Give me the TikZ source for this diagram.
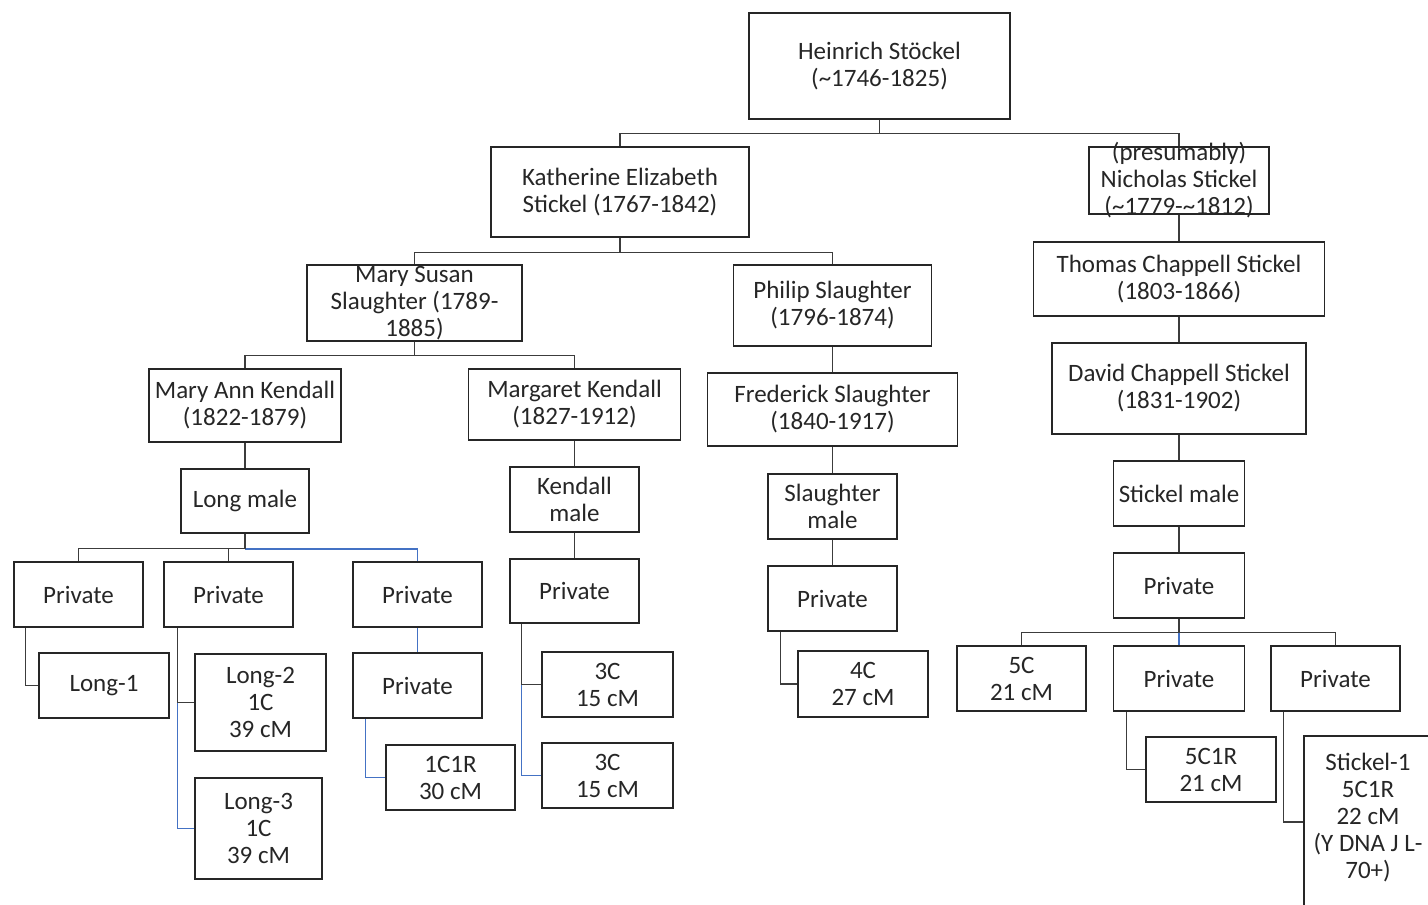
\documentclass[tikz,border=0pt]{standalone}
\usepackage{fontspec}
\setmainfont{Carlito}
\usepackage{xcolor}
\definecolor{linegray}{RGB}{60,60,60}
\definecolor{linkblue}{RGB}{68,114,196}
\tikzset{
    tree-box/.style 2 args = {draw=black!85, line width=0.8pt, rectangle, align=center, minimum width=#1*0.5pt, minimum height=#2*0.5pt, inner xsep=2pt, inner ysep=-4pt, text=black!85, font=\fontsize{12.5}{13.5}\selectfont},
    link/.style = {draw=linegray, line width=0.6pt},
    blue-link/.style = {draw=linkblue, line width=0.7pt},
}

\begin{document}
\begin{tikzpicture}[x=0.5pt, y=-0.5pt]
\useasboundingbox (0,0) rectangle (1428,904);
\clip (0,0) rectangle (1428,904);
% ancestors
\node[tree-box={261}{106}] (heinrich) at (879.5,66) {Heinrich Stöckel\\(\textasciitilde1746-1825)};
\node[tree-box={258}{90}] (katherine) at (620,192) {Katherine Elizabeth\\Stickel (1767-1842)};
\node[tree-box={180}{67}] (nicholas) at (1179,180.5) {(presumably)\\Nicholas Stickel\\(\textasciitilde1779-\textasciitilde1812)};
\node[tree-box={215}{76}] (marysusan) at (414.5,303) {Mary Susan\\Slaughter (1789-\\1885)};
\node[tree-box={198}{81}] (philip) at (832.5,305.5) {Philip Slaughter\\(1796-1874)};
\node[tree-box={291}{74}] (thomas) at (1179,279) {Thomas Chappell Stickel\\(1803-1866)};
\node[tree-box={254}{91}] (david) at (1179,388.5) {David Chappell Stickel\\(1831-1902)};
\node[tree-box={192}{73}] (maryann) at (245,405.5) {Mary Ann Kendall\\(1822-1879)};
\node[tree-box={212}{71}] (margaret) at (574.5,404.5) {Margaret Kendall\\(1827-1912)};
\node[tree-box={250}{73}] (frederick) at (832.5,409.5) {Frederick Slaughter\\(1840-1917)};
% male lines
\node[tree-box={128}{64}] (longmale) at (245,501) {Long male};
\node[tree-box={129}{65}] (kendallmale) at (574.5,499.5) {Kendall\\male};
\node[tree-box={129}{65}] (slaughtermale) at (832.5,506.5) {Slaughter\\male};
\node[tree-box={131}{65}] (stickelmale) at (1179,493.5) {Stickel male};
% private generation
\node[tree-box={129}{65}] (privA) at (78.5,594.5) {Private};
\node[tree-box={129}{65}] (privB) at (228.5,594.5) {Private};
\node[tree-box={129}{65}] (privC) at (417.5,594.5) {Private};
\node[tree-box={129}{64}] (privK) at (574.5,591) {Private};
\node[tree-box={129}{65}] (privS) at (832.5,598.5) {Private};
\node[tree-box={131}{65}] (privSt) at (1179,585.5) {Private};
% matches
\node[tree-box={130}{65}] (long1) at (104,685.5) {Long-1};
\node[tree-box={131}{97}] (long2) at (260.5,702.5) {Long-2\\1C\\39 cM};
\node[tree-box={127}{101}] (long3) at (258.5,828.5) {Long-3\\1C\\39 cM};
\node[tree-box={129}{65}] (privD) at (417.5,685.5) {Private};
\node[tree-box={129}{65}] (onecr) at (450.5,777.5) {1C1R\\30 cM};
\node[tree-box={131}{65}] (threeA) at (607.5,684.5) {3C\\15 cM};
\node[tree-box={131}{65}] (threeB) at (607.5,775.5) {3C\\15 cM};
\node[tree-box={130}{66}] (fourC) at (863,684) {4C\\27 cM};
\node[tree-box={129}{65}] (fiveC) at (1021.5,678.5) {5C\\21 cM};
\node[tree-box={131}{65}] (privSt2) at (1179,678.5) {Private};
\node[tree-box={129}{65}] (privSt3) at (1335.5,678.5) {Private};
\node[tree-box={130}{65}] (fivecr) at (1211,769.5) {5C1R\\21 cM};
\node[tree-box={128}{190}] (stickel1) at (1368,831) {\raisebox{3pt}[0pt][0pt]{\begin{tabular}{@{}c@{}}Stickel-1\\5C1R\\22 cM\\(Y DNA J L-\\70+)\end{tabular}}};
% connectors
\draw[link] (heinrich.south) -- ++(0,14) -| (katherine.north);
\draw[link] (heinrich.south) -- ++(0,14) -| (nicholas.north);
\draw[link] (katherine.south) -- ++(0,15) -| (marysusan.north);
\draw[link] (katherine.south) -- ++(0,15) -| (philip.north);
\draw[link] (nicholas.south) -- (thomas.north);
\draw[link] (thomas.south) -- (david.north);
\draw[link] (david.south) -- (stickelmale.north);
\draw[link] (stickelmale.south) -- (privSt.north);
\draw[link] (marysusan.south) -- ++(0,14) -| (maryann.north);
\draw[link] (marysusan.south) -- ++(0,14) -| (margaret.north);
\draw[link] (maryann.south) -- (longmale.north);
\draw[link] (margaret.south) -- (kendallmale.north);
\draw[link] (kendallmale.south) -- (privK.north);
\draw[link] (philip.south) -- (frederick.north);
\draw[link] (frederick.south) -- (slaughtermale.north);
\draw[link] (slaughtermale.south) -- (privS.north);
% Long line
\draw[blue-link] ([shift={(0,15)}]longmale.south) -| (privC.north);
\draw[link] (longmale.south) -- ++(0,15) -| (privA.north);
\draw[link] (longmale.south) -- ++(0,15) -| (privB.north);
\draw[link] ([shift={(12,0)}]privA.south west) |- (long1.west);
\draw[link] ([shift={(14,0)}]privB.south west) |- (long2.west);
\draw[blue-link] ([shift={(14,0)}]privB.south west |- long2.west) |- (long3.west);
\draw[blue-link] (privC.south) -- (privD.north);
\draw[blue-link] ([shift={(13,0)}]privD.south west) |- (onecr.west);
% Kendall and Slaughter lines
\draw[link] ([shift={(12,0)}]privK.south west) |- (threeA.west);
\draw[blue-link] ([shift={(12,0)}]privK.south west |- threeA.west) |- (threeB.west);
\draw[link] ([shift={(13,0)}]privS.south west) |- (fourC.west);
% Stickel line
\draw[link] (privSt.south) -- ++(0,14) -| (fiveC.north);
\draw[link] (privSt.south) -- ++(0,14) -| (privSt3.north);
\draw[blue-link] ([shift={(0,14)}]privSt.south) -- (privSt2.north);
\draw[link] ([shift={(14,0)}]privSt2.south west) |- (fivecr.west);
\draw[link] ([shift={(13,0)}]privSt3.south west) |- ([shift={(0,-9)}]stickel1.west);
\end{tikzpicture}
\end{document}
